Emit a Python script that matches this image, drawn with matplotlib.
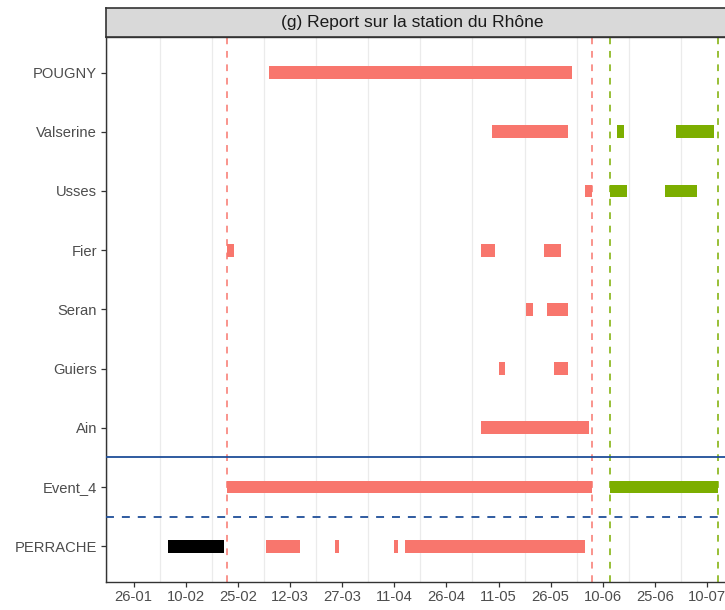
import datetime as dt
import matplotlib
matplotlib.use("Agg")
import matplotlib.pyplot as plt
import matplotlib.dates as mdates

plt.rcParams['font.family'] = ['Liberation Sans', 'DejaVu Sans']

YEAR = 2019
# Categories, bottom to top
stations = ["PERRACHE", "Event_4", "Ain", "Guiers", "Seran", "Fier", "Usses", "Valserine", "POUGNY"]

# Segments (station, start dd-mm, end dd-mm, group)
seg_station = ["POUGNY",
               "Valserine", "Valserine", "Valserine",
               "Usses", "Usses", "Usses",
               "Fier", "Fier", "Fier",
               "Seran", "Seran",
               "Guiers", "Guiers",
               "Ain",
               "Event_4", "Event_4",
               "PERRACHE", "PERRACHE", "PERRACHE", "PERRACHE", "PERRACHE"]
seg_start = ["06-03",
             "09-05", "14-06", "01-07",
             "05-06", "12-06", "28-06",
             "22-02", "06-05", "24-05",
             "19-05", "25-05",
             "11-05", "27-05",
             "06-05",
             "22-02", "12-06",
             "05-02", "05-03", "25-03", "11-04", "14-04"]
seg_end = ["01-06",
           "31-05", "16-06", "12-07",
           "07-06", "17-06", "07-07",
           "24-02", "10-05", "29-05",
           "21-05", "31-05",
           "13-05", "31-05",
           "06-06",
           "07-06", "13-07",
           "21-02", "15-03", "26-03", "12-04", "05-06"]
seg_group = ["p1",
             "p1", "p2", "p2",
             "p1", "p2", "p2",
             "p1", "p1", "p1",
             "p1", "p1",
             "p1", "p1",
             "p1",
             "p1", "p2",
             "before", "p1", "p1", "p1", "p1"]

vline_dates = ["22-02", "07-06", "12-06", "13-07"]
vline_group = ["p1", "p1", "p2", "p2"]

tick_labels = ["26-01", "10-02", "25-02", "12-03", "27-03", "11-04",
               "26-04", "11-05", "26-05", "10-06", "25-06", "10-07"]

title = "(g) Report sur la station du Rhône"

colors = {"p1": "#F8766D", "p2": "#7CAE00", "before": "#000000"}


def d(s):
    dd, mm = s.split("-")
    return mdates.date2num(dt.datetime(YEAR, int(mm), int(dd)))


W, H = 725, 610
fig = plt.figure(figsize=(W / 100, H / 100), dpi=100)

left_px, right_px = 105.5, 735.0
top_px, bot_px = 37.0, 581.7
ax = fig.add_axes([left_px / W, 1 - bot_px / H, (right_px - left_px) / W, (bot_px - top_px) / H])

px_per_day = 3.4764
ref = d("26-01")
ax.set_xlim(ref - (133.5 - left_px) / px_per_day, ref + (right_px - 133.5) / px_per_day)
ax.set_ylim(-0.6, len(stations) - 1 + 0.6)

ticks = [d(t) for t in tick_labels]
# minor gridlines midway between ticks
for t in [ticks[0] - 7.5] + [t + 7.5 for t in ticks]:
    ax.axvline(t, color="#EBEBEB", lw=0.9, zorder=0)

ypos = {s: i for i, s in enumerate(stations)}
bar_h = 0.216
for st, s0, s1, g in zip(seg_station, seg_start, seg_end, seg_group):
    x0, x1 = d(s0), d(s1)
    ax.barh(ypos[st], x1 - x0, left=x0, height=bar_h, color=colors[g], lw=0, zorder=3)

for v, g in zip(vline_dates, vline_group):
    ax.axvline(d(v), color=colors[g], lw=1.1, dashes=(4.4, 4.4), zorder=2)

ax.axhline(ypos["Event_4"] + 0.5, color="#1F4E98", lw=1.3, zorder=4)
ax.axhline(ypos["Event_4"] - 0.5, color="#1F4E98", lw=1.3, dashes=(4.4, 4.4), zorder=4)

ax.set_xticks(ticks)
ax.set_xticklabels(tick_labels)
ax.set_yticks(range(len(stations)))
ax.set_yticklabels(stations)
ax.tick_params(axis="both", colors="#333333", labelcolor="#4D4D4D", labelsize=10.6,
               length=3.5, width=0.9)
ax.tick_params(axis="x", pad=2.5)
ax.tick_params(axis="y", pad=2.5)
for sp in ax.spines.values():
    sp.set_color("#333333")
    sp.set_linewidth(1.0)

# strip
strip_top = 8.3
sax = fig.add_axes([left_px / W, 1 - top_px / H, (right_px - left_px) / W, (top_px - strip_top) / H])
sax.set_facecolor("#D9D9D9")
sax.set_xticks([])
sax.set_yticks([])
for sp in sax.spines.values():
    sp.set_color("#333333")
    sp.set_linewidth(1.2)
fig.text(412 / W, 1 - 22.5 / H, title, ha="center", va="center", fontsize=12.5, color="#1A1A1A")

fig.savefig("out.png", dpi=100)
